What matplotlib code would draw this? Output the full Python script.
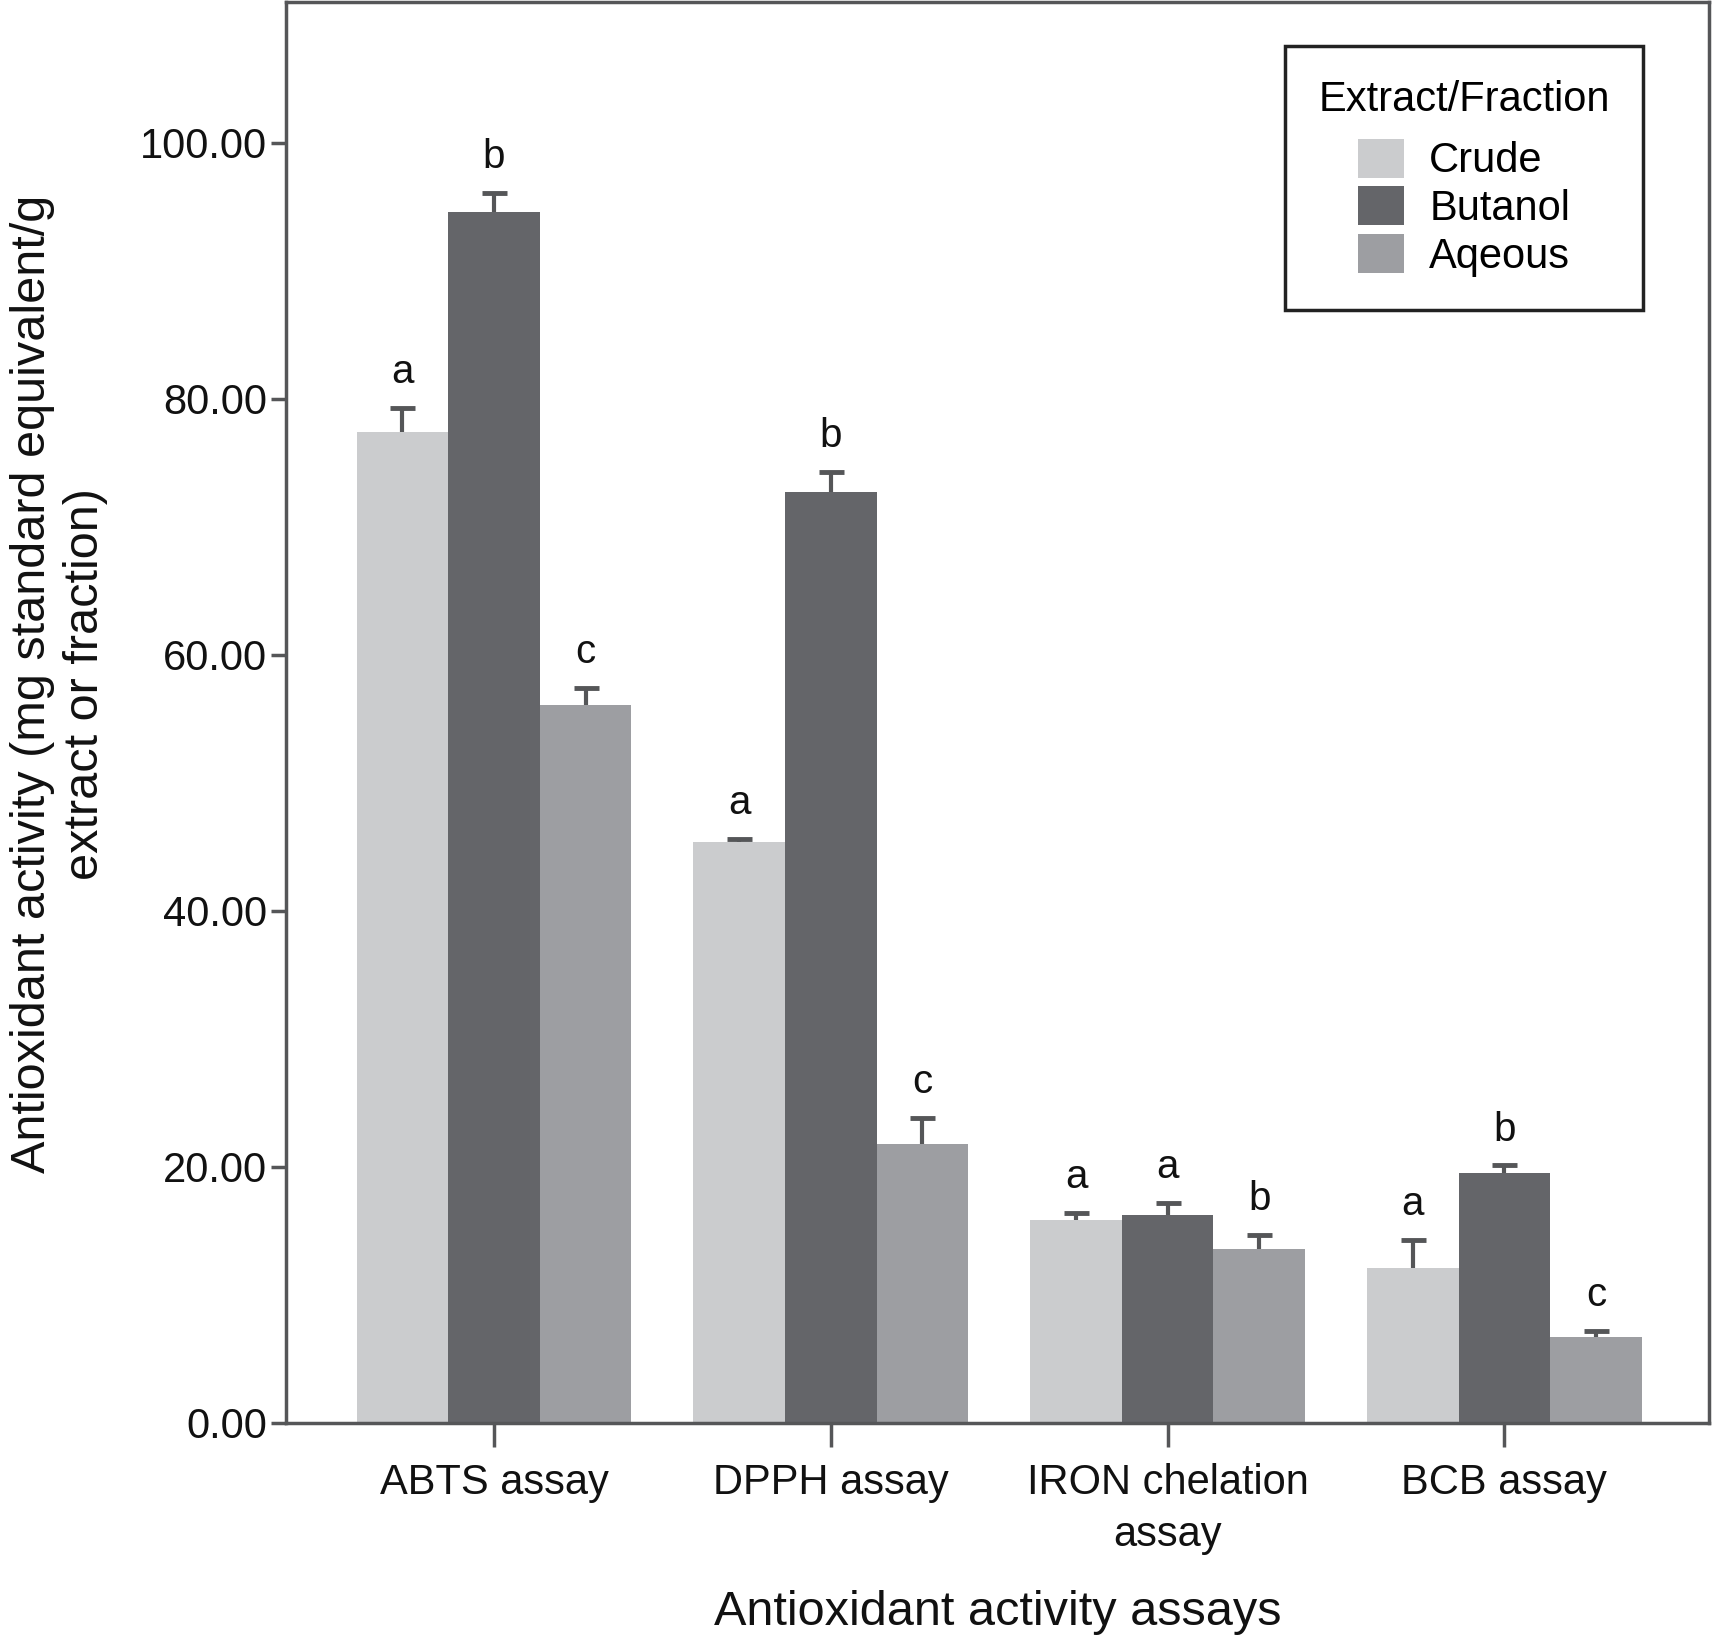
import matplotlib
matplotlib.use("Agg")
import matplotlib.pyplot as plt
import numpy as np
from matplotlib.patches import Patch

plt.rcParams['font.family'] = ['Liberation Sans', 'DejaVu Sans']

categories = ["ABTS assay", "DPPH assay", "IRON chelation\nassay", "BCB assay"]
series_names = ["Crude", "Butanol", "Aqeous"]
crude = [77.4, 45.4, 15.8, 12.1]
butanol = [94.6, 72.7, 16.2, 19.5]
aqueous = [56.1, 21.8, 13.6, 6.7]
crude_err = [1.9, 0.2, 0.6, 2.2]
butanol_err = [1.5, 1.6, 1.0, 0.6]
aqueous_err = [1.3, 2.0, 1.1, 0.5]
crude_letters = ["a", "a", "a", "a"]
butanol_letters = ["b", "b", "a", "b"]
aqueous_letters = ["c", "c", "b", "c"]
yticks = [0, 20, 40, 60, 80, 100]

colors = ["#cbccce", "#646569", "#9d9ea2"]
spine_col = "#555658"

fig = plt.figure(figsize=(17.14, 16.39), dpi=100)
ax = fig.add_axes([0.167, 0.132, 0.830, 0.8667])

x = np.arange(len(categories))
w = 0.272
vals = [crude, butanol, aqueous]
errs = [crude_err, butanol_err, aqueous_err]
letters = [crude_letters, butanol_letters, aqueous_letters]

for j in range(3):
    pos = x + (j - 1) * w
    ax.bar(pos, vals[j], width=w, color=colors[j], edgecolor='none', zorder=2)
    _, caps, _ = ax.errorbar(pos, vals[j], yerr=[np.zeros(len(pos)), errs[j]], fmt='none',
                             ecolor=spine_col, elinewidth=3, capsize=9, capthick=3.5, zorder=3)
    if len(caps) == 2:
        caps[0].set_visible(False)
    for p, v, e, l in zip(pos, vals[j], errs[j], letters[j]):
        ax.annotate(l, (p, v + e), xytext=(0, 12), textcoords='offset points',
                    ha='center', va='bottom', fontsize=29, color='#111111')

ax.set_xlim(-0.617, 3.607)
ax.set_ylim(0, 111)
ax.set_yticks(yticks)
ax.set_yticklabels([f"{t:.2f}" for t in yticks])
ax.set_xticks(x)
ax.set_xticklabels(categories, linespacing=1.4)

for s in ax.spines.values():
    s.set_color(spine_col)
    s.set_linewidth(2.5)

ax.tick_params(axis='y', length=11, width=2.5, color=spine_col, labelsize=30, pad=3, labelcolor='#111111')
ax.tick_params(axis='x', length=17, width=2.5, color=spine_col, labelsize=30, pad=12, labelcolor='#111111')

ax.set_xlabel("Antioxidant activity assays", fontsize=35, labelpad=25, color='#111111')
ax.set_ylabel("Antioxidant activity (mg standard equivalent/g\nextract or fraction)",
              fontsize=35, color='#111111', linespacing=1.25)
ax.yaxis.set_label_coords(-0.125, 0.52)

handles = [Patch(facecolor=c, edgecolor='none') for c in colors]
leg = ax.legend(handles, series_names, title="Extract/Fraction", loc='upper right',
                bbox_to_anchor=(0.954, 0.969), fontsize=30, title_fontsize=30,
                fancybox=False, edgecolor='#222222', framealpha=1,
                handlelength=1.1, handleheight=1.05, handletextpad=0.6,
                labelspacing=0.12, borderpad=0.8, borderaxespad=0)
leg.get_frame().set_linewidth(2.5)
leg._legend_box.sep = 14

fig.savefig("out.png", dpi=100)
